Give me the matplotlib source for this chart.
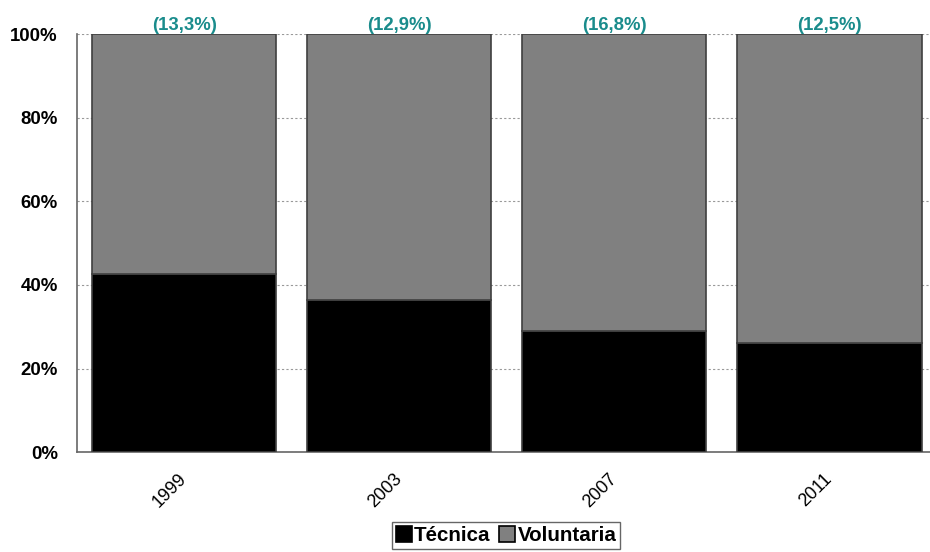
import matplotlib
matplotlib.use("Agg")
import matplotlib.pyplot as plt
from matplotlib.ticker import FuncFormatter
from matplotlib.transforms import ScaledTranslation, blended_transform_factory

years = ["1999", "2003", "2007", "2011"]
tecnica = [42.7, 36.3, 29.1, 26.2]
voluntaria = [100 - t for t in tecnica]
top_labels = ["(13,3%)", "(12,9%)", "(16,8%)", "(12,5%)"]

plt.rcParams['font.family'] = ['Liberation Sans', 'DejaVu Sans']

fig = plt.figure(figsize=(9.3, 5.52), dpi=100)
ax = fig.add_axes([76.5/930, 1 - 452.3/552, (937 - 76.5)/930, (452.3 - 34)/552])

x = list(range(len(years)))
w = 0.856
ax.bar(x, tecnica, width=w, color="#000000", edgecolor="#404040", linewidth=1.2,
       label="Técnica", zorder=3)
ax.bar(x, voluntaria, width=w, bottom=tecnica, color="#808080", edgecolor="#404040",
       linewidth=1.2, label="Voluntaria", zorder=3)

for xi, lab in zip(x, top_labels):
    ax.text(xi, 100.1, lab, ha="center", va="bottom", color="#1a8c8c",
            fontsize=13.3, fontweight="bold")

ax.set_xlim(-0.5, 3.5)
ax.set_ylim(0, 100)
ax.set_yticks([0, 20, 40, 60, 80, 100])
ax.yaxis.set_major_formatter(FuncFormatter(lambda v, p: f"{int(v)}%"))
ax.set_xticks(x)
ax.set_xticklabels([])

# year labels rotated, slightly left of the bar centre as in the reference
btr = blended_transform_factory(ax.transData, ax.transAxes)
off = ScaledTranslation(-14/100, -38/100, fig.dpi_scale_trans)
for xi, yr in zip(x, years):
    ax.text(xi, 0, yr, transform=btr + off, rotation=45, ha="center", va="center",
            fontsize=13, rotation_mode="anchor")

for t in ax.get_yticklabels():
    t.set_fontsize(13.4)
    t.set_fontweight("bold")
ax.tick_params(axis="y", length=0, pad=13.5)
ax.tick_params(axis="x", length=0)

ax.grid(axis="y", linestyle=(0, (2, 2)), color="#999999", linewidth=0.8, zorder=0)
for s in ["top", "right"]:
    ax.spines[s].set_visible(False)
ax.spines["left"].set_color("#666666")
ax.spines["bottom"].set_color("#666666")
ax.spines["left"].set_linewidth(1.2)
ax.spines["bottom"].set_linewidth(1.2)

leg = fig.legend(loc="upper center", bbox_to_anchor=(506/930, 1 - 522/552), ncol=2,
                 frameon=True, fancybox=False, edgecolor="#404040",
                 handlelength=0.8, handleheight=0.8, handletextpad=0.1,
                 columnspacing=0.4, borderpad=0.2, borderaxespad=0,
                 prop={"weight": "bold", "size": 14.8})
leg.get_frame().set_linewidth(1.0)
for h in leg.legend_handles:
    h.set_edgecolor("#000000")

fig.savefig("out.png", dpi=100)
